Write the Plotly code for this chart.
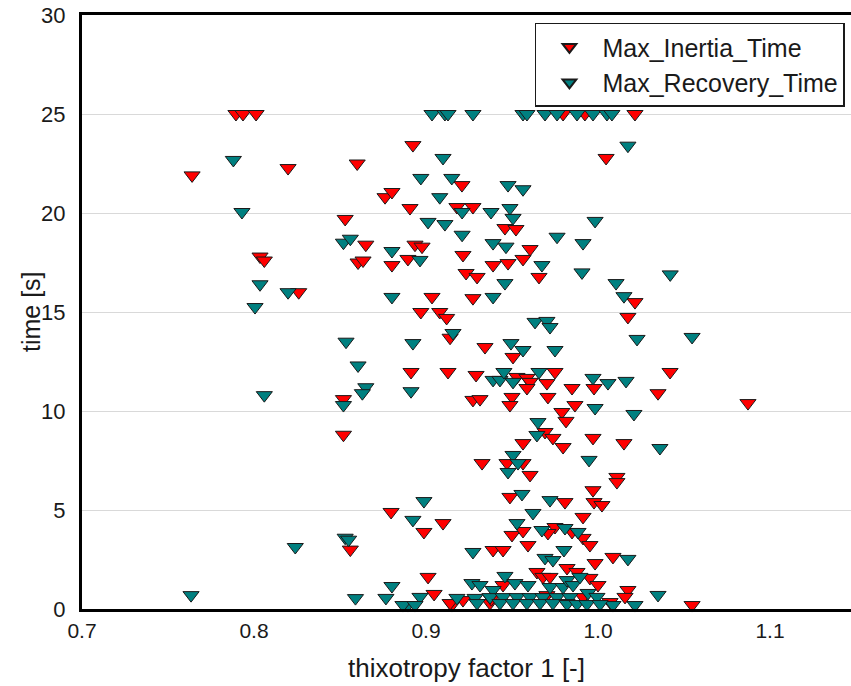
import plotly.graph_objects as go

# ---- data ----
inertia_x = [0.7895, 0.7936, 0.8012, 0.9797, 0.9924, 1.0215,
             0.764, 0.8198, 0.860, 0.853, 0.865, 0.8605, 0.8634, 0.8035, 0.806, 0.826,
             0.8924, 1.0047, 0.9209, 0.8762, 0.8802, 0.8907, 0.918, 0.9273,
             0.8802, 0.8936, 0.8977, 0.8895, 0.9215, 0.9605, 0.9564, 0.939, 0.9477, 0.9233, 0.9297, 0.9657, 1.0215, 0.9035, 0.9273,
             0.897, 0.908, 0.912, 0.9459, 0.9523,
             0.914, 0.9343, 0.9506, 0.8913, 0.9128, 0.9291, 0.9529, 0.9587, 0.9605, 0.975, 0.9587, 0.9703, 0.9709, 0.9849, 0.9866,
             0.9273, 0.9314, 0.95, 0.9488, 0.979, 0.9814, 0.9692, 0.9738, 0.9797, 0.9564, 0.9326, 0.9471, 0.9564, 0.9605,
             1.0174, 1.0419, 1.0349, 0.9977, 0.9971, 1.0151, 1.011, 1.0872,
             0.852, 0.852, 0.856, 0.8797, 0.8988, 0.9099, 0.9488, 0.9808, 0.95, 0.9564, 0.9593, 0.975, 0.9709, 0.939, 0.9448,
             0.9012, 0.9047, 0.9151, 0.9215, 0.9448, 0.9645, 0.968, 0.9721, 0.982, 0.9372, 0.9703,
             1.011, 0.9971, 0.9977, 1.0023, 0.9913, 0.9849, 0.9913, 0.9953, 1.0087, 0.9983, 0.9878, 0.9953, 1.0, 1.0174, 1.0157,
             1.0547, 0.9913, 1.007, 0.914, 0.938]
inertia_y = [25, 25, 25, 25, 25, 25,
             21.9, 22.27, 22.5, 19.7, 18.4, 17.5, 17.6, 17.8, 17.6, 16.0,
             23.43, 22.78, 21.41, 20.8, 21.06, 20.25, 20.3, 20.3,
             17.37, 18.4, 18.3, 17.68, 17.88, 18.18, 17.68, 17.37, 17.47, 16.97, 16.77, 16.77, 15.5, 15.76, 15.7,
             15.0, 15.0, 14.7, 19.24, 19.19,
             13.7, 13.23, 12.73, 11.97, 11.97, 11.82, 11.72, 11.67, 11.47, 11.97, 11.16, 11.41, 10.71, 11.16, 10.3,
             10.56, 10.6, 10.71, 10.3, 9.95, 9.5, 8.94, 8.64, 8.18, 8.38, 7.37, 7.37, 7.37, 6.77,
             14.75, 11.97, 10.9, 11.16, 8.64, 8.38, 6.67, 10.4,
             8.8, 10.6, 3.0, 4.9, 3.89, 4.34, 5.66, 5.4, 3.74, 3.94, 3.23, 4.14, 3.84, 2.98, 2.98,
             1.62, 0.76, 0.2, 0.45, 1.21, 1.87, 1.62, 1.62, 2.07, 0.3, 0.7,
             6.41, 6.0, 5.4, 5.25, 4.65, 3.89, 3.59, 3.23, 2.63, 2.32, 1.87, 1.57, 1.21, 0.96, 0.61,
             0.2, 0.6, 0.35, 0.3, 0.5]

recovery_x = [0.9035, 0.911, 0.9128, 0.9273, 0.9564, 0.9587, 0.9692, 0.9762, 0.9878, 0.9971, 1.0052, 1.0081,
              0.788, 0.793, 0.852, 0.856, 0.8035, 0.8198, 0.8006,
              0.9099, 1.0174, 0.897, 0.915, 0.9477, 0.9564, 0.908, 0.921, 0.9378, 0.9488, 0.9506, 0.9983, 0.9012, 0.911, 0.921,
              0.8802, 0.8965, 0.939, 0.9465, 0.9674, 0.9762, 0.9913, 0.9907, 0.9459, 1.0105, 1.0151, 0.8802, 0.939,
              0.9157, 0.8924, 0.9634, 0.9703, 0.9721, 0.9494, 0.9564, 0.975, 0.8913, 0.939, 0.943, 0.9453, 0.9506, 0.9657,
              0.9651, 0.9645, 0.9506, 0.9535, 0.9477,
              1.0227, 1.0547, 0.9971, 1.0058, 1.0163, 0.9983, 1.0209, 1.036, 0.9948, 1.042,
              0.806, 0.824, 0.7634, 0.853, 0.855, 0.8535, 0.8605, 0.865, 0.863, 0.852, 0.859,
              0.8988, 0.8924, 0.9273, 0.9558, 0.9721, 0.9622, 0.9529, 0.9674, 0.9808, 0.9802, 0.9692, 0.9738,
              0.8802, 0.8767, 0.8965, 0.8895, 0.918, 0.9267, 0.9314, 0.9285, 0.9297, 0.939, 0.9459, 0.9517, 0.9593,
              0.9721, 0.9797, 0.982, 0.9855,
              0.9372, 0.9448, 0.9529, 0.9605, 0.968, 0.9762, 0.9837,
              0.943, 0.9506, 0.9587, 0.9663, 0.9738, 0.982,
              0.8866, 0.8936,
              0.9884, 1.0174, 0.9895, 0.9942, 0.9994, 1.0349, 1.0215, 1.0087, 0.982, 0.9878, 0.9936, 1.0012]
recovery_y = [25, 25, 25, 25, 25, 25, 25, 25, 25, 25, 25, 25,
              22.68, 20.05, 18.5, 18.7, 16.4, 16.0, 15.25,
              22.78, 23.4, 21.77, 21.77, 21.41, 21.2, 20.8, 20.05, 20.05, 20.25, 19.75, 19.6, 19.55, 19.44, 18.9,
              18.08, 17.63, 18.48, 18.3, 17.37, 18.8, 18.48, 17.0, 16.46, 16.46, 15.8, 15.76, 15.76,
              13.94, 13.43, 14.5, 14.55, 14.24, 13.43, 13.08, 13.08, 11.0, 11.57, 11.57, 11.97, 11.47, 11.97,
              9.44, 8.79, 7.78, 7.37, 6.92,
              13.64, 13.74, 11.67, 11.41, 11.52, 10.15, 9.85, 8.13, 7.53, 16.9,
              10.8, 3.13, 0.7, 3.6, 3.5, 13.5, 12.3, 11.2, 10.9, 10.3, 0.55,
              5.45, 4.5, 2.88, 5.81, 5.5, 4.85, 4.34, 3.99, 4.09, 2.98, 2.58, 2.47,
              1.16, 0.56, 0.61, 0.2, 0.56, 1.31, 1.21, 0.56, 0.3, 0.96, 1.67, 1.31, 1.21,
              1.11, 1.11, 1.46, 1.21,
              0.6, 0.6, 0.6, 0.6, 0.6, 0.6, 0.6,
              0.3, 0.3, 0.3, 0.3, 0.3, 0.3,
              0.2, 0.2,
              3.89, 2.53, 1.62, 0.81, 0.61, 0.71, 0.2, 0.2, 0.25, 0.25, 0.25, 0.25]

series_names = ["Max_Inertia_Time", "Max_Recovery_Time"]
series_colors = ["#ff0000", "#008080"]
x_ticks = [0.7, 0.8, 0.9, 1.0, 1.1]
x_tick_labels = ["0.7", "0.8", "0.9", "1.0", "1.1"]
y_ticks = [0, 5, 10, 15, 20, 25, 30]
x_title = "thixotropy factor 1 [-]"
y_title = "time [s]"

FONT = "Liberation Sans, Arial, sans-serif"

fig = go.Figure()
for xs, ys, name, col in [(inertia_x, inertia_y, series_names[0], series_colors[0]),
                          (recovery_x, recovery_y, series_names[1], series_colors[1])]:
    fig.add_trace(go.Scatter(
        x=xs, y=ys, mode="markers", name=name,
        marker=dict(symbol="triangle-down", size=14, color=col,
                    line=dict(color="#1a1a1a", width=1)),
        cliponaxis=False,
    ))

fig.update_layout(
    width=851, height=686,
    margin=dict(l=82, r=0, t=15, b=77),
    paper_bgcolor="white", plot_bgcolor="white",
    font=dict(family=FONT, size=21, color="#1a1a1a"),
    showlegend=True,
    legend=dict(x=0.589, y=0.987, xanchor="left", yanchor="top",
                bgcolor="white", bordercolor="#1a1a1a", borderwidth=1.5,
                font=dict(family=FONT, size=25, color="#1a1a1a"),
                itemsizing="constant", itemwidth=56, tracegroupgap=0),
    annotations=[dict(text=y_title, textangle=-90, xref="paper", yref="paper",
                      x=-0.0663, y=0.5, xanchor="center", yanchor="middle",
                      showarrow=False, font=dict(family=FONT, size=25, color="#1a1a1a"))],
)
fig.update_xaxes(
    range=[0.7, 1.1471], tickvals=x_ticks, ticktext=x_tick_labels,
    showgrid=False, zeroline=False,
    showline=True, linecolor="black", linewidth=3, mirror=True,
    ticks="", ticklabelstandoff=1,
    tickfont=dict(size=21),
    title=dict(text=x_title, font=dict(size=26), standoff=18),
)
fig.update_yaxes(
    range=[0, 30], tickvals=y_ticks,
    showgrid=True, gridcolor="#d9d9d9", gridwidth=1, zeroline=False,
    showline=True, linecolor="black", linewidth=3, mirror=False,
    ticks="", ticklabelstandoff=9,
    tickfont=dict(size=22),
)

fig.write_html("out.html")
